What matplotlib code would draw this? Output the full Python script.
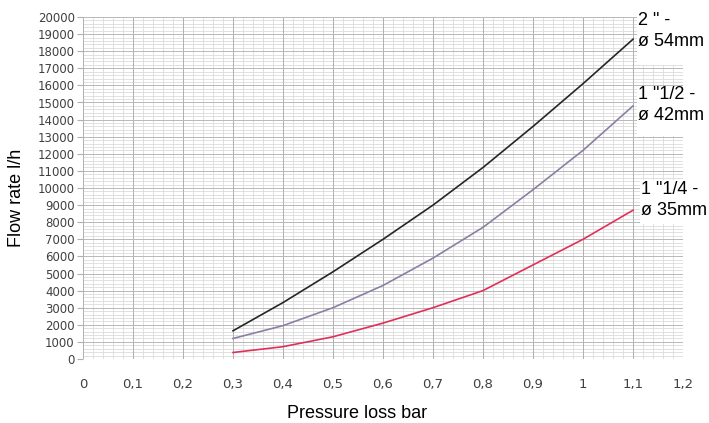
import matplotlib.pyplot as plt
from matplotlib.patches import Rectangle
from matplotlib.ticker import FixedLocator, FuncFormatter

# pressure loss (bar) and flow rate (l/h)
pressure = [0.3, 0.4, 0.5, 0.6, 0.7, 0.8, 0.9, 1.0, 1.1]
flow_54 = [1650, 3300, 5100, 7000, 9000, 11200, 13600, 16100, 18700]
flow_42 = [1200, 1950, 3000, 4300, 5900, 7700, 9900, 12200, 14800]
flow_35 = [380, 720, 1300, 2100, 3000, 4000, 5500, 7000, 8700]

labels = ['2 " -\nø 54mm', '1 "1/2 -\nø 42mm', '1 "1/4 -\nø 35mm']
colors = ['#262626', '#8c7fa3', '#e0305a']

x_major = [i * 0.1 for i in range(13)]
x_minor = [i * 0.02 for i in range(61) if i % 5]
y_major = [i * 1000 for i in range(21)]
y_minor = [i * 200 for i in range(101) if i % 5]

W, H = 709, 423
fig = plt.figure(figsize=(W / 100, H / 100), dpi=100)
ax = fig.add_axes([83 / W, 1 - 359 / H, 600 / W, 342 / H])

# grid drawn by hand so the darker lines stay on top of the light ones
ax.vlines(x_minor, 0, 20000, color='#dcdcdc', lw=0.6, zorder=0.1)
ax.hlines(y_minor, 0, 1.2, color='#dcdcdc', lw=0.6, zorder=0.1)
ax.vlines(x_major, 0, 20000, color='#b0b0b0', lw=0.7, zorder=0.2)
ax.hlines(y_major, 0, 1.2, color='#b8b8b8', lw=0.7, zorder=0.2)

for ys, c in zip([flow_54, flow_42, flow_35], colors):
    ax.plot(pressure, ys, color=c, lw=1.2, zorder=3)

ax.set_xlim(0, 1.2)
ax.set_ylim(0, 20000)
ax.xaxis.set_major_locator(FixedLocator(x_major))
ax.yaxis.set_major_locator(FixedLocator(y_major))
for s in ax.spines.values():
    s.set_visible(False)

ax.xaxis.set_major_formatter(FuncFormatter(
    lambda v, p: ('%g' % round(v, 1)).replace('.', ',')))
ax.tick_params(axis='x', length=0, pad=14, labelsize=9.5, labelcolor='#404040')
ax.tick_params(axis='y', length=4, width=0.8, color='#b0b0b0',
               pad=2, labelsize=8.5, labelcolor='#404040')

fig.text(357 / W, 1 - 413 / H, 'Pressure loss bar', ha='center', va='center',
         fontsize=13, family='Liberation Sans')
fig.text(17 / W, 1 - 198 / H, 'Flow rate l/h', ha='center', va='center',
         rotation=90, fontsize=13, family='Liberation Sans')

# white label boxes over the right side of the grid
boxes = [(637, 8, 72, 57), (637, 86, 72, 50), (640, 180, 69, 44)]
text_pos = [(638, 12), (638, 86), (641, 181)]
for (bx, by, bw, bh), (tx, ty), lab in zip(boxes, text_pos, labels):
    fig.add_artist(Rectangle((bx / W, 1 - (by + bh) / H), bw / W, bh / H,
                             transform=fig.transFigure, facecolor='white',
                             edgecolor='none', zorder=5))
    fig.text(tx / W, 1 - ty / H, lab, ha='left', va='top', fontsize=13,
             family='Liberation Sans', linespacing=1.3, zorder=6)

fig.savefig('out.png', dpi=100)
